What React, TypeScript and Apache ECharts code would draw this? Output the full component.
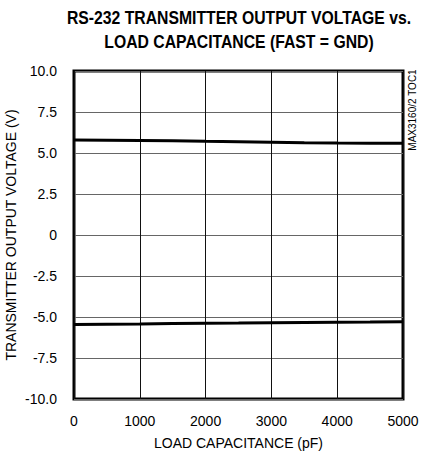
import React, { useEffect, useRef } from "react";
import * as echarts from "echarts";

const capacitance = [0, 500, 1000, 1500, 2000, 2500, 3000, 3500, 4000, 4500, 5000];
const positiveOut = [5.79, 5.78, 5.76, 5.74, 5.71, 5.69, 5.66, 5.63, 5.61, 5.6, 5.59];
const negativeOut = [-5.45, -5.44, -5.43, -5.4, -5.38, -5.37, -5.35, -5.33, -5.32, -5.31, -5.29];
const xTicks = [0, 1000, 2000, 3000, 4000, 5000];
const yTicks = [-10, -7.5, -5, -2.5, 0, 2.5, 5, 7.5, 10];
const titleLines = ["RS-232 TRANSMITTER OUTPUT VOLTAGE vs.", "LOAD CAPACITANCE (FAST = GND)"];

const FONT = "'Liberation Sans', Arial, Helvetica, sans-serif";

export default function App() {
  const ref = useRef<HTMLDivElement>(null);
  useEffect(() => {
    if (!ref.current) return;
    const chart = echarts.init(ref.current, undefined, { renderer: "svg" });
    const mk = (vals: number[]) => capacitance.map((c, i) => [c, vals[i]]);
    chart.setOption({
      animation: false,
      backgroundColor: "#fff",
      grid: {
        left: 74,
        right: 19,
        top: 71,
        bottom: 60,
        outerBoundsMode: "none",
        containLabel: false,
        show: true,
        borderColor: "#000",
        borderWidth: 3,
        backgroundColor: "transparent",
      },
      xAxis: {
        type: "value",
        min: 0,
        max: 5000,
        interval: 1000,
        name: "LOAD CAPACITANCE (pF)",
        nameLocation: "middle",
        nameGap: 37,
        nameMoveOverlap: false,
        nameTextStyle: { fontFamily: FONT, fontSize: 14, color: "#000" },
        axisLine: { show: false },
        axisTick: { show: false },
        axisLabel: {
          margin: 15,
          fontFamily: FONT,
          fontSize: 14,
          color: "#000",
          formatter: (v: number) => (xTicks.includes(v) ? String(v) : ""),
        },
        splitLine: { show: true, lineStyle: { color: "#111", width: 1 } },
      },
      yAxis: {
        type: "value",
        min: -10,
        max: 10,
        interval: 2.5,
        name: "TRANSMITTER OUTPUT VOLTAGE (V)",
        nameLocation: "middle",
        nameGap: 56,
        nameMoveOverlap: false,
        nameTextStyle: { fontFamily: FONT, fontSize: 14, color: "#000" },
        axisLine: { show: false },
        axisTick: { show: false },
        axisLabel: {
          margin: 17,
          fontFamily: FONT,
          fontSize: 14,
          color: "#000",
          formatter: (v: number) =>
            yTicks.includes(v) ? (v === 0 ? "0" : v.toFixed(1)) : "",
        },
        splitLine: { show: true, lineStyle: { color: "#666", width: 1 } },
      },
      graphic: [
        ...titleLines.map((t, i) => ({
          type: "text",
          x: 239,
          y: 17 + i * 24,
          scaleX: 0.83,
          style: {
            text: t,
            fontFamily: FONT,
            fontWeight: "bold",
            fontSize: 19,
            fill: "#000",
            align: "center",
            verticalAlign: "middle",
          },
        })),
        {
          type: "text",
          x: 412,
          y: 110,
          rotation: Math.PI / 2,
          style: {
            text: "MAX3160/2 TOC1",
            fontFamily: FONT,
            fontSize: 10,
            fill: "#000",
            align: "center",
            verticalAlign: "middle",
          },
        },
      ],
      series: [
        {
          type: "line",
          data: mk(positiveOut),
          showSymbol: false,
          lineStyle: { color: "#000", width: 3 },
        },
        {
          type: "line",
          data: mk(negativeOut),
          showSymbol: false,
          lineStyle: { color: "#000", width: 3 },
        },
      ],
    });
    return () => chart.dispose();
  }, []);
  return <div ref={ref} style={{ width: 422, height: 459, position: "absolute", left: 0, top: 0 }} />;
}
